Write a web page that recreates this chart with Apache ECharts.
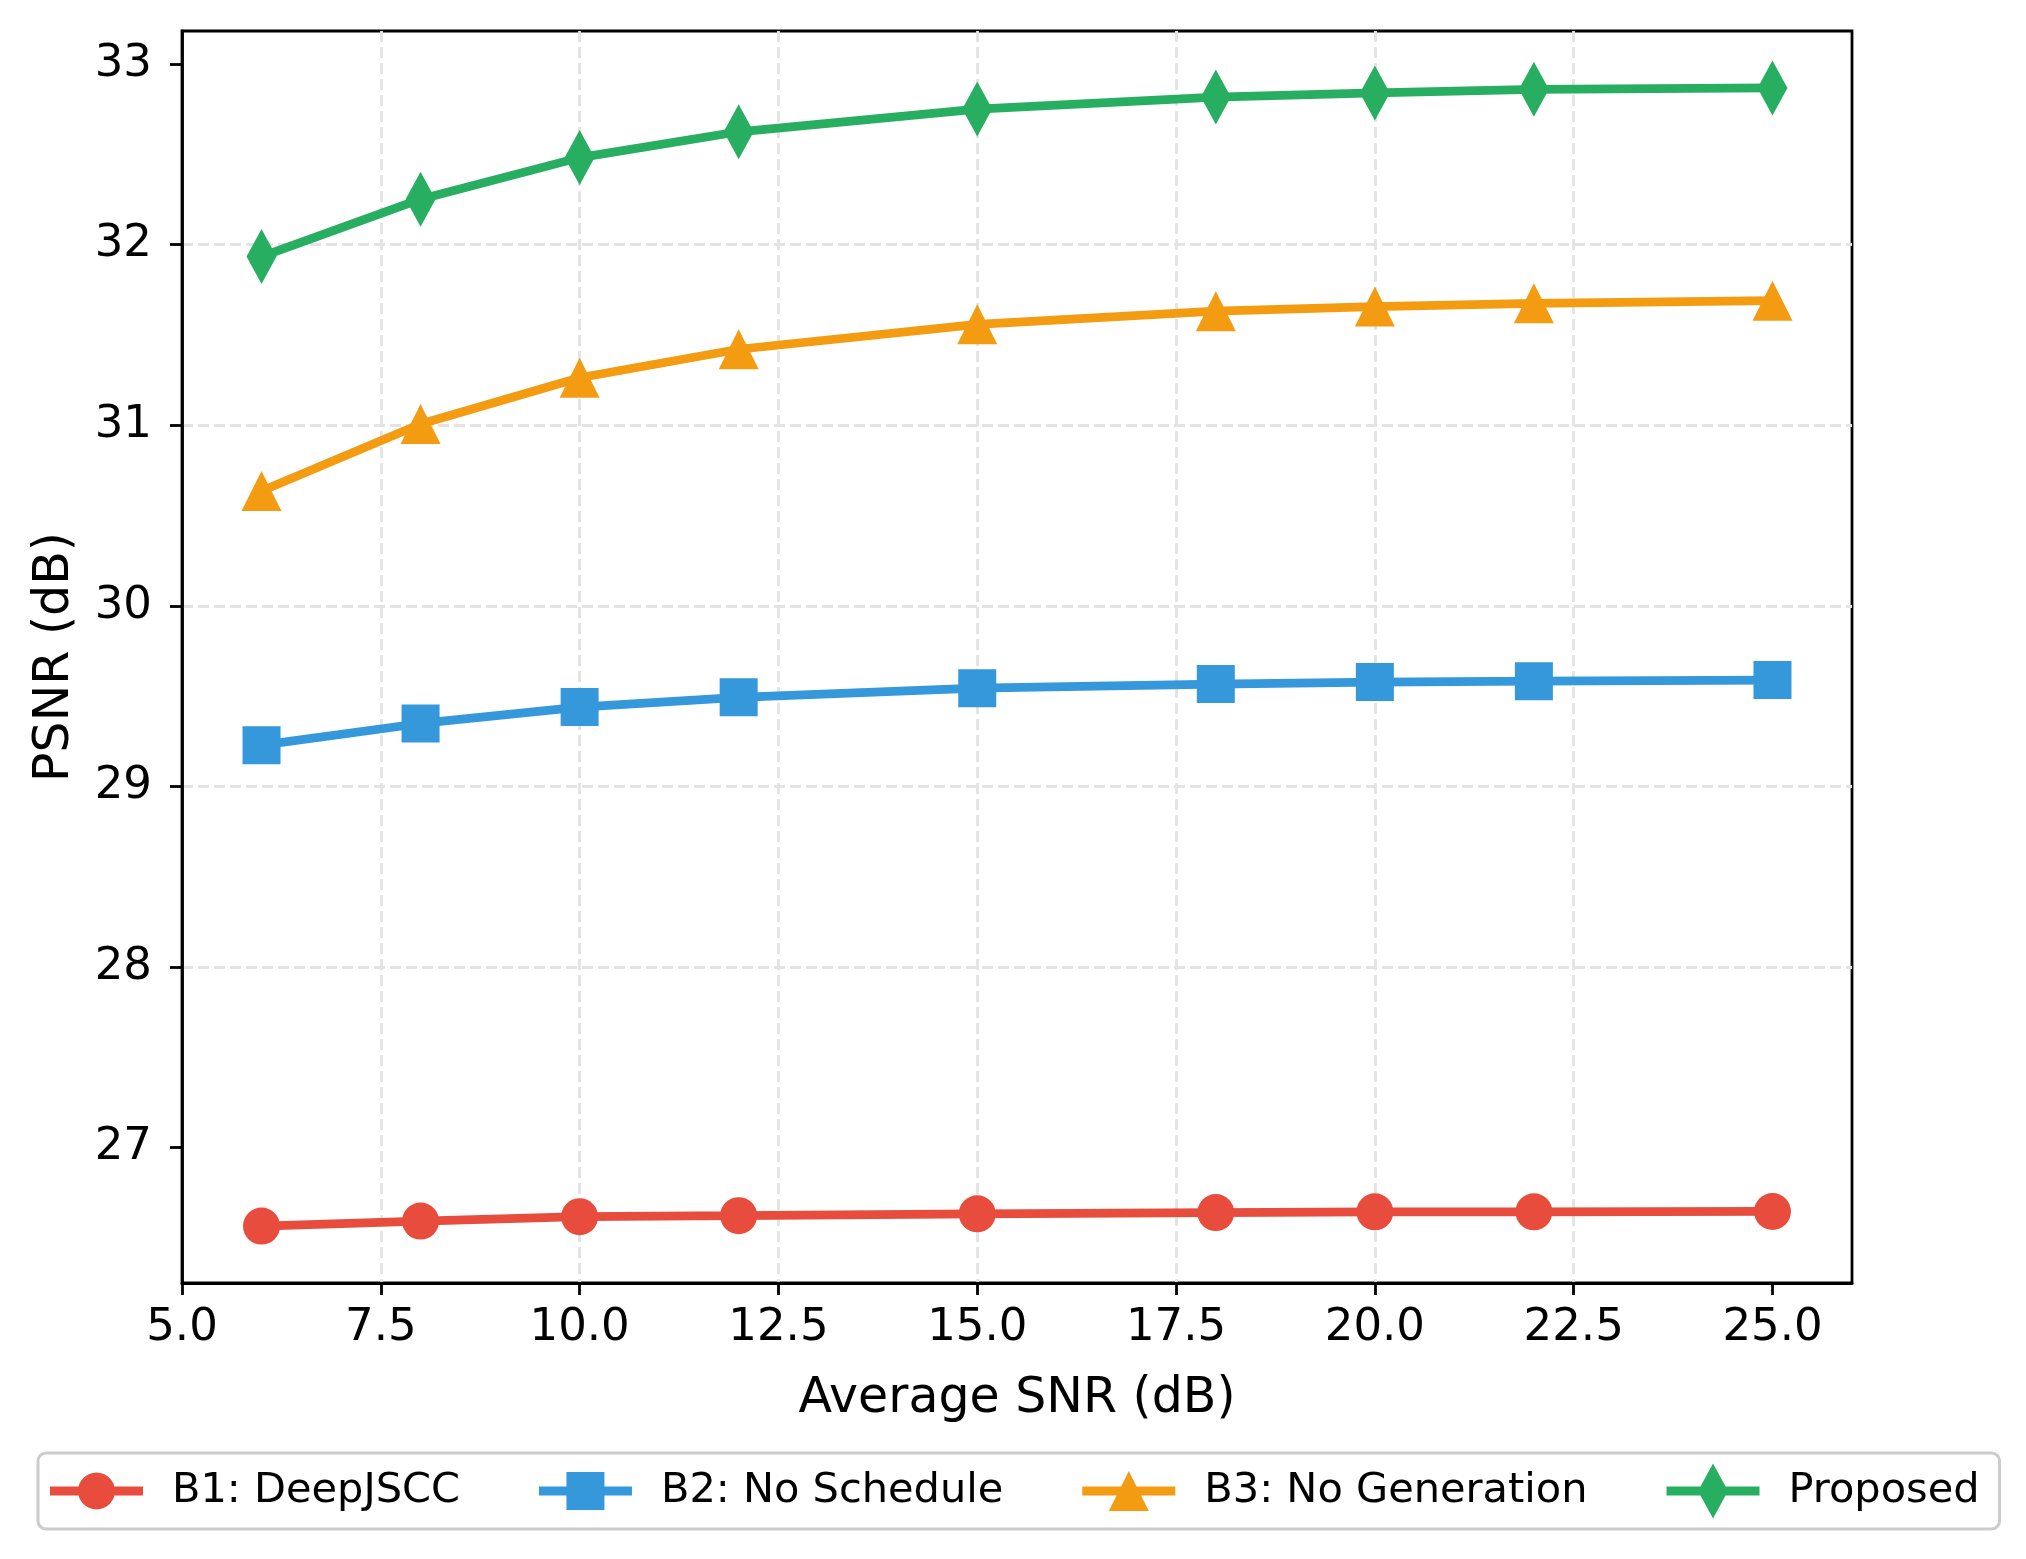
<!DOCTYPE html>
<html>
<head>
<meta charset="utf-8">
<script src="https://cdn.jsdelivr.net/npm/echarts@6/dist/echarts.min.js"></script>
<style>
html,body{margin:0;padding:0;background:#fff;}
#chart{width:2026px;height:1559px;}
</style>
</head>
<body>
<div id="chart"></div>
<script>
// ---- data ----
const snr = [6, 8, 10, 12, 15, 18, 20, 22, 25];
const b1DeepJSCC = [26.566, 26.594, 26.618, 26.624, 26.634, 26.641, 26.645, 26.645, 26.647];
const b2NoSchedule = [29.229, 29.349, 29.440, 29.494, 29.544, 29.567, 29.578, 29.583, 29.589];
const b3NoGeneration = [30.636, 31.007, 31.263, 31.421, 31.559, 31.632, 31.657, 31.675, 31.690];
const proposed = [31.934, 32.252, 32.482, 32.625, 32.751, 32.817, 32.840, 32.860, 32.868];
const seriesNames = ['B1: DeepJSCC', 'B2: No Schedule', 'B3: No Generation', 'Proposed'];
const xTicks = [5, 7.5, 10, 12.5, 15, 17.5, 20, 22.5, 25];
const yTicks = [27, 28, 29, 30, 31, 32, 33];

const colors = ['#e74c3c', '#3498db', '#f39c12', '#27ae60'];
const FONT = 'DejaVu Sans';

function pairs(xs, ys) { return xs.map((x, i) => [x, ys[i]]); }

// legend icons: line + marker
const legendIcons = [
  'path://M0 14H93V23H0Z M28 18.5C28 8.28 36.28 0 46.5 0C56.72 0 65 8.28 65 18.5C65 28.72 56.72 37 46.5 37C36.28 37 28 28.72 28 18.5Z',
  'path://M0 14.5H93V23.5H0Z M27.5 0H65.5V38H27.5Z',
  'path://M0 15.5H93V24.5H0Z M46.5 0L66.5 40L26.5 40Z',
  'path://M0 23H93V32H0Z M46.5 0L61.5 27.5L46.5 55L31.5 27.5Z'
];

const gridLine = { show: true, showMinLine: false, showMaxLine: false,
  lineStyle: { color: '#e3e3e3', width: 2.8, type: [11, 5] } };

const chart = echarts.init(document.getElementById('chart'), null, { renderer: 'canvas', devicePixelRatio: 1 });

const dataSets = [b1DeepJSCC, b2NoSchedule, b3NoGeneration, proposed];
const symbols = ['circle', 'rect', 'triangle', 'diamond'];
const symbolSizes = [37, 38, 40, [30, 55]];

const option = {
  animation: false,
  backgroundColor: '#ffffff',
  textStyle: { fontFamily: FONT },
  grid: {
    left: 182, right: 174, top: 31, bottom: 276,
    show: true, borderColor: '#000', borderWidth: 2.8, backgroundColor: 'transparent'
  },
  xAxis: {
    type: 'value', min: 5, max: 26, interval: 2.5,
    name: 'Average SNR (dB)', nameLocation: 'middle', nameGap: 92,
    nameTextStyle: { fontSize: 49, color: '#000', fontFamily: FONT },
    axisLine: { show: true, onZero: false, lineStyle: { color: '#000', width: 2.8 } },
    axisTick: { show: true, length: 12, customValues: xTicks, lineStyle: { color: '#000', width: 2.8 } },
    axisLabel: { fontSize: 45, color: '#000', margin: 23, fontFamily: FONT,
      customValues: xTicks, formatter: v => Number(v).toFixed(1) },
    splitLine: gridLine
  },
  yAxis: {
    type: 'value', min: 26.251, max: 33.183, interval: 1,
    name: 'PSNR (dB)', nameLocation: 'middle', nameGap: 102, nameRotate: 90,
    nameTextStyle: { fontSize: 49, color: '#000', fontFamily: FONT },
    axisLine: { show: true, onZero: false, lineStyle: { color: '#000', width: 2.8 } },
    axisTick: { show: true, length: 12, customValues: yTicks, lineStyle: { color: '#000', width: 2.8 } },
    axisLabel: { fontSize: 45, color: '#000', margin: 30, fontFamily: FONT,
      customValues: yTicks, formatter: v => String(Math.round(v)) },
    splitLine: gridLine
  },
  legend: {
    left: 38, top: 1453,
    orient: 'horizontal',
    padding: [10.5, 20, 10.5, 12],
    itemWidth: 93, itemHeight: 55, itemGap: 79,
    borderColor: '#cccccc', borderWidth: 3, borderRadius: 8,
    backgroundColor: '#ffffff',
    textStyle: { fontSize: 41.5, color: '#000', fontFamily: FONT, padding: [0, 0, 0, 24] },
    itemStyle: { borderWidth: 0 },
    data: seriesNames.map((n, i) => ({ name: n, icon: legendIcons[i] }))
  },
  series: dataSets.map((d, i) => ({
    name: seriesNames[i],
    type: 'line',
    data: pairs(snr, d),
    symbol: symbols[i],
    symbolSize: symbolSizes[i],
    showAllSymbol: true,
    lineStyle: { color: colors[i], width: 8.75 },
    itemStyle: { color: colors[i], borderWidth: 0, opacity: 1 },
    emphasis: { disabled: true },
    z: 2 + i
  }))
};

chart.setOption(option);
</script>
</body>
</html>
